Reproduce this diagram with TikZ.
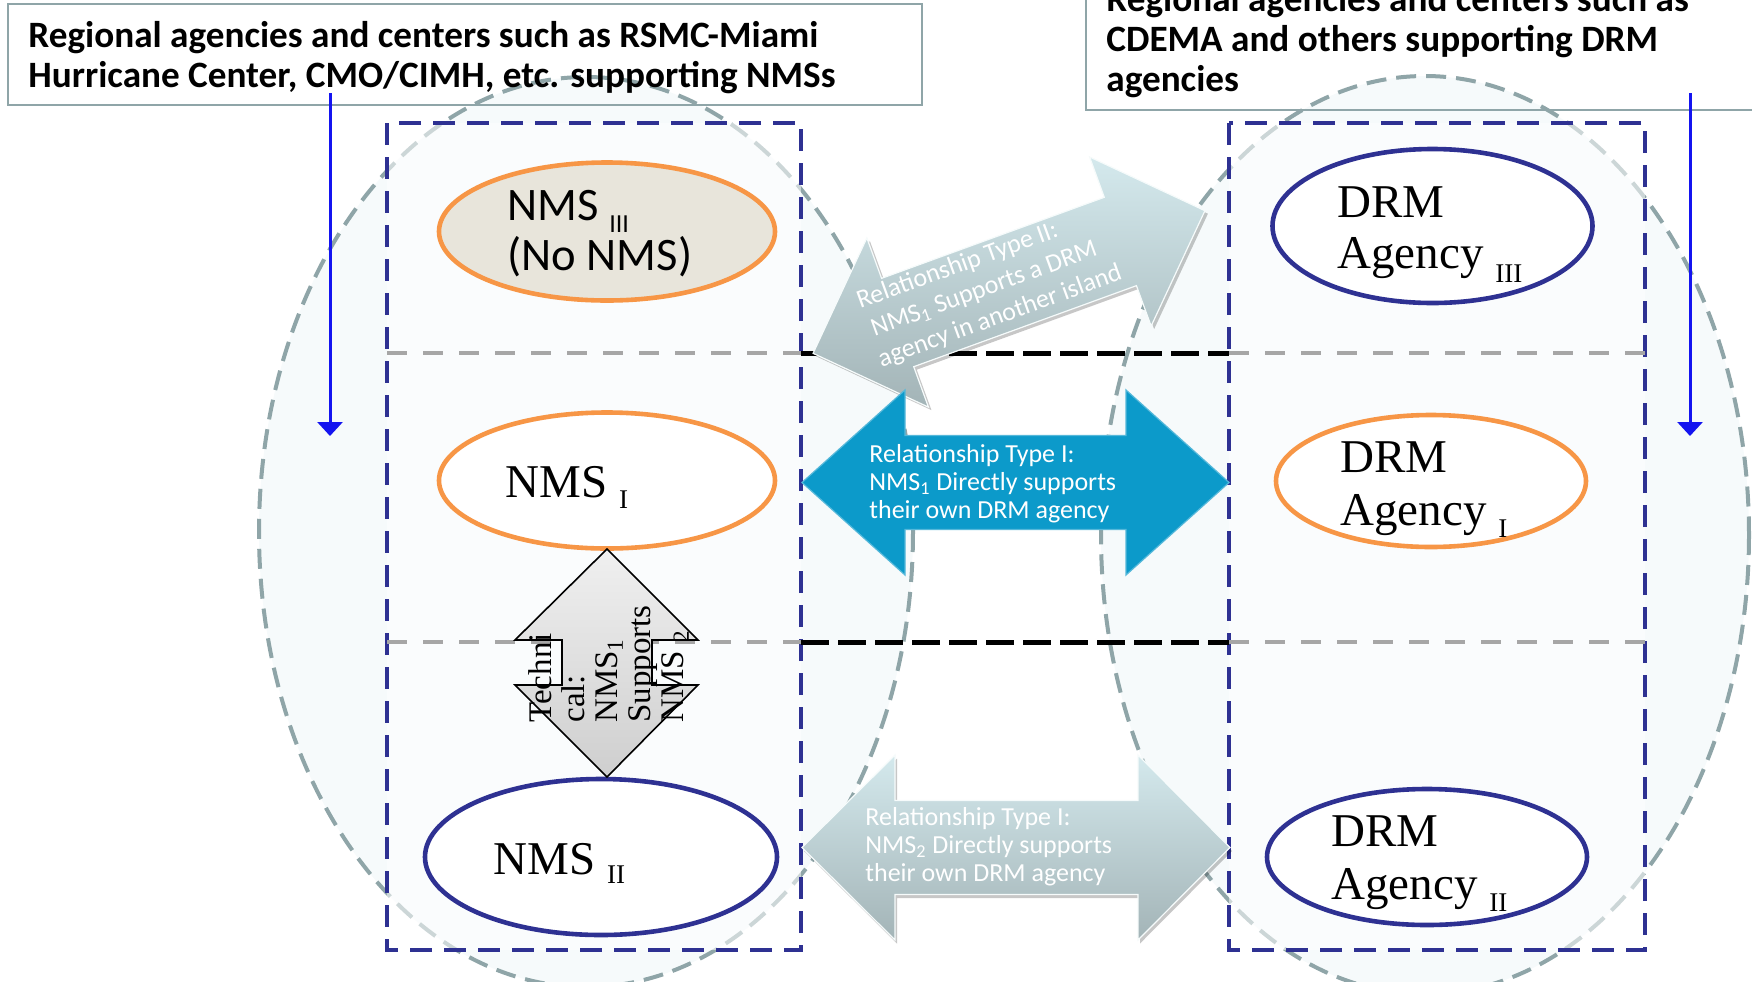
\documentclass[tikz,border=0pt]{standalone}
\usepackage{fontspec}
\setmainfont{Liberation Serif}
\newfontfamily\carlito{Carlito}
\usetikzlibrary{arrows.meta,shapes.geometric}
\definecolor{navy}{RGB}{46,49,146}
\definecolor{orng}{RGB}{247,150,70}
\definecolor{beige}{RGB}{232,229,219}
\definecolor{ellgray}{RGB}{143,165,168}
\definecolor{ellfill}{RGB}{246,250,251}
\definecolor{dgray}{RGB}{166,166,166}
\definecolor{relblue}{RGB}{12,154,202}
\definecolor{ltop}{RGB}{212,233,237}
\definecolor{lbot}{RGB}{163,180,183}
\definecolor{vblue}{RGB}{20,20,240}
\newcommand\subtxt[2]{\raisebox{-#1}{\fontsize{13.5}{13.5}\selectfont #2}}
\tikzset{
 bigell/.style={draw=ellgray, line width=2pt, dash pattern=on 10pt off 5pt, fill=ellfill},
 zone/.style={draw=navy, line width=2.2pt, dash pattern=on 11pt off 6pt, fill=white, fill opacity=0.55},
 rowsep/.style={draw=dgray, line width=2pt, dash pattern=on 10pt off 8pt},
 midsep/.style={draw=black, line width=2.5pt, dash pattern=on 14pt off 4.5pt},
 orgbox/.style={draw=ellgray, line width=1pt},
 ell/.style={ellipse, inner sep=0pt, line width=2.3pt},
 lbl/.style={anchor=base west, inner sep=0pt},
 downarr/.style={draw=vblue, line width=1.5pt, -{Triangle[width=12.5pt,length=7pt]}},
 lightarr/.style={top color=ltop, bottom color=lbot, draw=white!80!ltop, line width=0.6pt},
 shadowarr/.style={fill=black, fill opacity=0.22},
 bluearr/.style={fill=relblue, draw=relblue!70!white, line width=0.6pt},
 techarr/.style={top color=gray!12, bottom color=gray!38, draw=black, line width=0.8pt},
 boxfont/.style={font=\carlito\bfseries\fontsize{18.6}{20}\selectfont},
 relfont/.style={font=\carlito\fontsize{13}{14.2}\selectfont, text=white},
 serfont/.style={font=\fontsize{23.5}{26.5}\selectfont},
}
\begin{document}
\begin{tikzpicture}[x=0.5pt,y=-0.5pt]
\useasboundingbox (0,0) rectangle (1752,981);
\clip (0,0) rectangle (1752,981);

% big regional ellipses
\draw[bigell] (586,532) ellipse [x radius=327, y radius=455];
\draw[bigell] (1425,535) ellipse [x radius=324, y radius=459];

% island zones
\draw[zone] (387,123) rectangle (801,950);
\draw[zone] (1229,123) rectangle (1645,950);

% row separators
\draw[rowsep] (387,353) -- (801,353);
\draw[rowsep] (1229,353) -- (1645,353);
\draw[rowsep] (387,642) -- (801,642);
\draw[rowsep] (1229,642) -- (1645,642);
\draw[midsep] (801,353) -- (1229,353);
\draw[midsep] (801,642) -- (1229,642);

% ellipses
\node[ell, draw=orng, fill=beige, minimum width=168pt, minimum height=69pt] (nms3) at (607,231.5) {};
\node[ell, draw=orng, fill=white, minimum width=168pt, minimum height=68pt] (nms1) at (607,480.5) {};
\node[ell, draw=navy, fill=white, minimum width=176pt, minimum height=78pt] (nms2) at (601,857) {};
\node[ell, draw=navy, fill=white, minimum width=160pt, minimum height=77pt] (drm3) at (1432.5,226) {};
\node[ell, draw=orng, fill=white, minimum width=155pt, minimum height=66pt] (drm1) at (1431,481) {};
\node[ell, draw=navy, fill=white, minimum width=160pt, minimum height=68pt] (drm2) at (1427,857) {};

\node[lbl, font=\carlito\fontsize{23.3}{25}\selectfont] (nms3t) at (507,220)
 {\begin{tabular}[t]{@{}l@{}}NMS {\fontsize{13}{13}\selectfont\raisebox{-6pt}{III}}\\(No NMS)\end{tabular}};
\node[lbl, serfont] (nms1t) at (505,497) {NMS \subtxt{5.5pt}{I}};
\node[lbl, serfont] (nms2t) at (493,874) {NMS \subtxt{4.5pt}{II}};
\node[lbl, font=\fontsize{23.5}{25.5}\selectfont] (drm3t) at (1337,217)
 {\begin{tabular}[t]{@{}l@{}}DRM\\Agency \subtxt{7pt}{III}\end{tabular}};
\node[lbl, serfont] (drm1t) at (1340,472)
 {\begin{tabular}[t]{@{}l@{}}DRM\\Agency \subtxt{6pt}{I}\end{tabular}};
\node[lbl, serfont] (drm2t) at (1331,846)
 {\begin{tabular}[t]{@{}l@{}}DRM\\Agency \subtxt{6pt}{II}\end{tabular}};

% Relationship type II (diagonal)
\begin{scope}[shift={(1012,285)}, rotate=20]
 \fill[shadowarr] (-208.5,0) -- (-118.5,-90) -- (-118.5,-47) -- (118.5,-47) -- (118.5,-90) -- (208.5,0) -- (118.5,90) -- (118.5,47) -- (-118.5,47) -- (-118.5,90) -- cycle;
\end{scope}
\begin{scope}[shift={(1009,282)}, rotate=20]
 \shade[lightarr] (-208.5,0) -- (-118.5,-90) -- (-118.5,-47) -- (118.5,-47) -- (118.5,-90) -- (208.5,0) -- (118.5,90) -- (118.5,47) -- (-118.5,47) -- (-118.5,90) -- cycle;
\end{scope}
\node[lbl, relfont, rotate=20, font=\carlito\fontsize{13}{15.5}\selectfont] (rel2t) at (860,309)
 {\begin{tabular}[t]{@{}l@{}}Relationship Type II:\\\hspace{2pt}NMS\textsubscript{1} Supports a DRM\\agency in another island\end{tabular}};

% Relationship type I (blue)
\draw[bluearr] (802,482.5) -- (905,390) -- (905,435.5) -- (1126,435.5) -- (1126,390) -- (1229,482.5) -- (1126,575) -- (1126,529.5) -- (905,529.5) -- (905,575) -- cycle;
\node[lbl, relfont] (rel1t) at (869,462)
 {\begin{tabular}[t]{@{}l@{}}Relationship Type I:\\NMS\textsubscript{1} Directly supports\\their own DRM agency\end{tabular}};

% Relationship type I (lower)
\fill[shadowarr] (804,851) -- (897,758.5) -- (897,804) -- (1140,804) -- (1140,758.5) -- (1232,851) -- (1140,943.5) -- (1140,898) -- (897,898) -- (897,943.5) -- cycle;
\shade[lightarr] (802,847.5) -- (895,755) -- (895,800.5) -- (1138,800.5) -- (1138,755) -- (1230,847.5) -- (1138,940) -- (1138,894.5) -- (895,894.5) -- (895,940) -- cycle;
\node[lbl, relfont] (rel3t) at (865,825)
 {\begin{tabular}[t]{@{}l@{}}Relationship Type I:\\NMS\textsubscript{2} Directly supports\\their own DRM agency\end{tabular}};

% technical support arrow
\shade[techarr] (607,549) -- (698,640) -- (652,640) -- (652,685) -- (698,685) -- (607,777) -- (515,685) -- (562,685) -- (562,640) -- (515,640) -- cycle;
\node[rotate=90, anchor=west, inner sep=0pt, font=\fontsize{16.5}{16.5}\selectfont] (techt) at (611,723)
 {\begin{tabular}{@{}l@{}}Techni\\cal:\\NMS\textsubscript{1}\\Supports\\NMS \textsubscript{2}\end{tabular}};

% regional boxes
\draw[orgbox] (8,4) rectangle (922,105);
\node[lbl, boxfont] (regL) at (28,47)
 {\begin{tabular}[t]{@{}l@{}}Regional agencies and centers such as RSMC-Miami\\Hurricane Center, CMO/CIMH, etc. supporting NMSs\end{tabular}};
\draw[orgbox] (1086,-60) rectangle (1800,110);
\node[lbl, boxfont] (regR) at (1106,11)
 {\begin{tabular}[t]{@{}l@{}}Regional agencies and centers such as\\CDEMA and others supporting DRM\\agencies\end{tabular}};

% downward arrows
\coordinate (la0) at (330,93);
\coordinate (la1) at (330,436);
\coordinate (ra0) at (1690,93);
\coordinate (ra1) at (1690,436);
\draw[downarr] (la0) -- (la1);
\draw[downarr] (ra0) -- (ra1);
\end{tikzpicture}
\end{document}
